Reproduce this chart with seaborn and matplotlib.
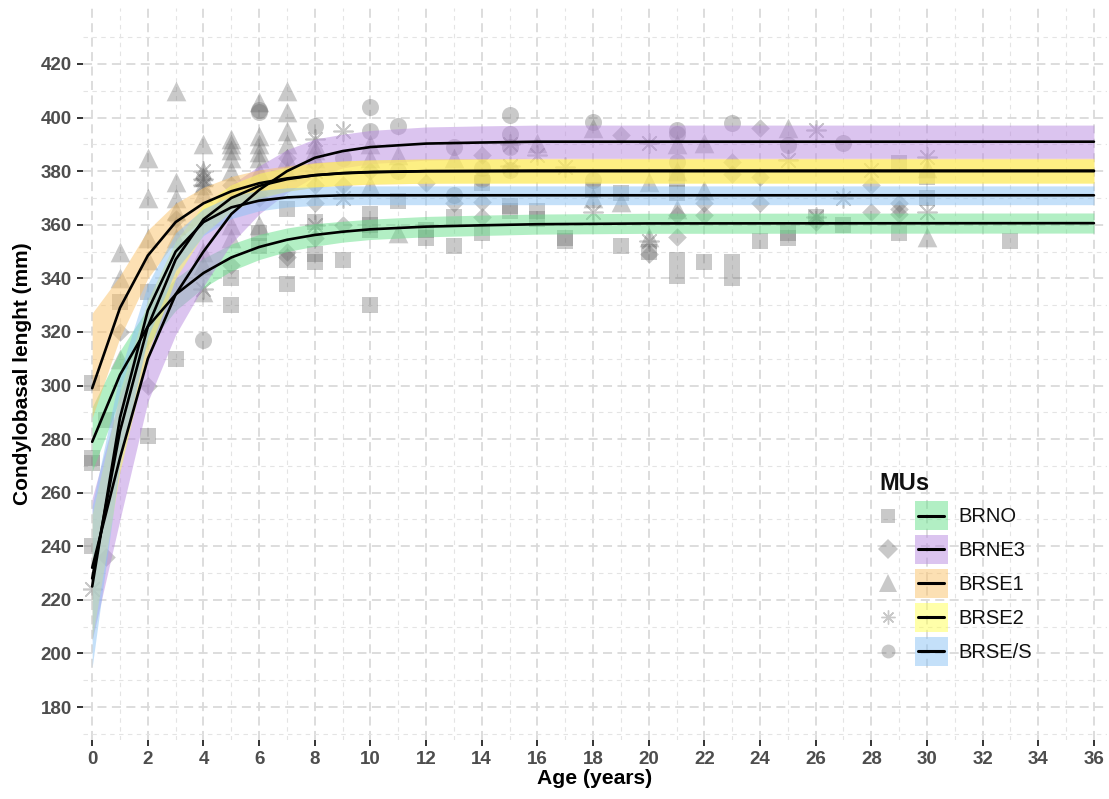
import numpy as np
import pandas as pd
import matplotlib
matplotlib.use("Agg")
import matplotlib.pyplot as plt
import seaborn as sns
from matplotlib.lines import Line2D
from matplotlib.patches import Rectangle
from matplotlib.legend_handler import HandlerBase
from matplotlib.ticker import FixedLocator

# ---------------- data ----------------
groups = ["BRNO", "BRNE3", "BRSE1", "BRSE2", "BRSE/S"]
fill_colors = ["#66e08a", "#b98ae0", "#fbc268", "#ffff55", "#8ac2f4"]

brno_age = [0, 0, 0, 0, 0.5, 1, 2, 2, 3, 5, 5, 6, 6, 7, 7, 7, 8, 8, 8, 9, 10, 10, 10, 10, 11,
            12, 12, 13, 13, 14, 14, 15, 15, 16, 16, 17, 17, 18, 19, 19, 20, 21, 21, 21, 21, 22,
            23, 23, 24, 25, 25, 26, 27, 29, 29, 30, 30, 33]
brno_len = [301, 273, 271, 240, 287, 331, 335, 281, 310, 340, 330, 357, 352, 366, 347, 338, 361,
            349, 346, 347, 364, 360, 358, 330, 369, 355, 358, 363, 352, 375.6, 357, 367, 365, 365,
            362, 355, 354, 373, 372, 352, 350, 377, 372, 347, 341, 346, 346, 340, 354, 357, 355,
            363, 360, 383, 357, 378, 370, 354]

brne3_age = [0.5, 1, 2, 3, 5, 5, 6, 6, 7, 7, 7, 8, 8, 8, 9, 9, 10, 12, 13, 14, 14, 14, 19, 20,
             21, 21, 22, 22, 23, 23, 24, 24, 24, 26, 28, 28, 29, 29, 29]
brne3_len = [236, 320, 300, 362, 345, 375, 370, 372, 350, 348, 385, 375, 368, 355, 375, 360, 380,
             375.6, 368, 386, 368.5, 363, 393.5, 349, 363.6, 355.4, 368, 363.6, 383.4, 379, 396,
             378, 368, 361, 375, 364.7, 368, 366, 364]

brse1_age = [1, 1, 1, 2, 2, 2, 2, 3, 3, 3, 3, 3, 3, 4, 4, 4, 4, 4, 4, 4, 4, 5, 5, 5, 5, 5, 5,
             5, 5, 6, 6, 6, 6, 6, 6, 6, 7, 7, 7, 7, 7, 7, 8, 8, 8, 10, 10, 10, 11, 11, 13, 16,
             18, 18, 19, 20, 20, 21, 21, 21, 22, 22, 25, 30, 30]
brse1_len = [350, 340, 310, 385, 370, 355, 347, 410, 376, 370, 365, 360, 355, 390, 380, 378, 375,
             372, 350, 345, 335, 392, 390, 388, 385, 380, 370, 360, 355, 406, 393, 390, 387, 385,
             380, 360, 410, 402, 395, 390, 385, 380, 390, 388, 385, 390, 385, 375, 386, 357, 385,
             390.5, 396, 370, 368.5, 376, 355.4, 390, 380, 366, 390.5, 373, 396, 381, 355.4]

brse2_age = [0, 4, 4, 4, 4, 8, 8, 8, 9, 9, 15, 15, 16, 17, 18, 20, 20, 25, 26, 26, 27, 28, 30, 30]
brse2_len = [224, 380, 377, 375, 336, 392, 380, 360, 395, 370, 390, 382, 386, 381.5, 364.7, 390.5,
             354, 384, 395.4, 363, 370, 380.4, 385.3, 364.7]

brses_age = [4, 6, 6, 8, 9, 10, 10, 11, 11, 13, 13, 14, 14, 15, 15, 15, 15, 18, 18, 21, 21, 21,
             23, 25, 27]
brses_len = [317, 403, 402, 397, 385, 404, 395, 397, 380, 389, 371, 381, 377, 401, 394, 389, 380.4,
             398.4, 376.7, 395.4, 394, 383.4, 398, 389.8, 390.5]

# fitted growth curves and their confidence ribbons
curve_age = [0, 1, 2, 3, 4, 5, 6, 7, 8, 9, 10, 12, 14, 16, 20, 36]

brno_fit = [279, 304, 322, 334, 342, 347.8, 351.7, 354.4, 356.2, 357.4, 358.3, 359.3, 359.8, 360.2, 360.5, 360.6]
brno_lo = [268, 295, 315, 328, 336.5, 342.8, 347, 350, 352, 353.5, 354.5, 355.5, 356, 356.5, 356.8, 356.9]
brno_hi = [292, 313, 329, 340, 347.5, 352.8, 356.4, 358.8, 360.4, 361.3, 362.1, 363.1, 363.6, 364, 364.3, 364.4]

brne3_fit = [232, 273, 310, 334, 350, 364, 373, 380, 385, 387.5, 389, 390.3, 390.7, 391, 391, 391]
brne3_lo = [205, 250, 294, 319, 337, 353, 364, 372, 378, 381.2, 382.8, 384.1, 384.5, 384.8, 384.8, 384.8]
brne3_hi = [258, 296, 327, 349, 363, 375, 382, 388, 392, 393.8, 395.2, 396.5, 396.9, 397.2, 397.2, 397.2]

brse1_fit = [299, 329, 348.5, 361, 368, 372.5, 375.5, 377.3, 378.5, 379.2, 379.6, 380, 380.1, 380.2, 380.2, 380.2]
brse1_lo = [288, 318, 340, 354, 362, 367, 370.5, 372.5, 374, 374.7, 375.1, 375.5, 375.6, 375.6, 375.6, 375.6]
brse1_hi = [327, 341, 358, 368, 374, 378, 380.5, 382, 383.2, 383.8, 384.2, 384.6, 384.7, 384.8, 384.8, 384.8]

brse2_fit = [228, 283, 322, 347, 362, 370, 374.5, 377, 378.5, 379.3, 379.7, 380, 380, 380, 380, 380]
brse2_lo = [205, 268, 312, 340, 356.5, 365, 369.8, 372.5, 374, 374.8, 375.2, 375.5, 375.5, 375.5, 375.5, 375.5]
brse2_hi = [252, 298, 332, 354, 367.5, 375, 379.2, 381.5, 383, 383.8, 384.2, 384.5, 384.5, 384.5, 384.5, 384.5]

brses_fit = [225, 288, 328, 350, 361, 366.5, 369, 370.2, 370.7, 371, 371, 371, 371, 371, 371, 371]
brses_lo = [195, 271, 318, 343, 356, 362.3, 365.2, 366.6, 367.2, 367.5, 367.5, 367.5, 367.5, 367.5, 367.5, 367.5]
brses_hi = [255, 305, 338, 357, 366, 370.7, 372.8, 373.8, 374.2, 374.5, 374.5, 374.5, 374.5, 374.5, 374.5, 374.5]

x_ticks = list(range(0, 37, 2))
y_ticks = list(range(180, 421, 20))

# ---------------- assemble ----------------
pts = pd.concat([
    pd.DataFrame({"age": a, "len": v, "MU": g})
    for a, v, g in [(brno_age, brno_len, "BRNO"), (brne3_age, brne3_len, "BRNE3"),
                    (brse1_age, brse1_len, "BRSE1"), (brse2_age, brse2_len, "BRSE2"),
                    (brses_age, brses_len, "BRSE/S")]
], ignore_index=True)

curves = pd.concat([
    pd.DataFrame({"age": curve_age, "fit": f, "lo": lo, "hi": hi, "MU": g})
    for f, lo, hi, g in [(brno_fit, brno_lo, brno_hi, "BRNO"), (brne3_fit, brne3_lo, brne3_hi, "BRNE3"),
                         (brse1_fit, brse1_lo, brse1_hi, "BRSE1"), (brse2_fit, brse2_lo, brse2_hi, "BRSE2"),
                         (brses_fit, brses_lo, brses_hi, "BRSE/S")]
], ignore_index=True)

# ---------------- style ----------------
sns.set_theme(style="white")
plt.rcParams["font.family"] = ["Liberation Sans", "DejaVu Sans"]

markers = {"BRNO": "s", "BRNE3": "D", "BRSE1": "^", "BRSE2": (8, 2, 0), "BRSE/S": "o"}
msizes = {"BRNO": 120, "BRNE3": 90, "BRSE1": 200, "BRSE2": 190, "BRSE/S": 150}
pt_color = "#666666"
pt_alpha = 0.35

fig = plt.figure(figsize=(11.09, 7.99), dpi=100)
ax = fig.add_axes([83 / 1109, 59 / 799, 1024 / 1109, 732 / 799])

# points
for g in groups:
    d = pts[pts["MU"] == g]
    lw = 1.2 if g == "BRSE2" else 0
    sns.scatterplot(data=d, x="age", y="len", marker=markers[g], s=msizes[g],
                    color=pt_color, alpha=pt_alpha, linewidth=lw, ax=ax, legend=False, zorder=2)

# ribbons
for g, c in zip(groups, fill_colors):
    d = curves[curves["MU"] == g]
    ax.fill_between(d["age"], d["lo"], d["hi"], color=c, alpha=0.5, linewidth=0, zorder=3)

# lines
for g in groups:
    d = curves[curves["MU"] == g]
    sns.lineplot(data=d, x="age", y="fit", color="black", linewidth=1.9, ax=ax,
                 legend=False, zorder=4, estimator=None, sort=False)

# axes
ax.set_xlim(-0.33, 36.47)
ax.set_ylim(167.7, 440.9)
ax.xaxis.set_major_locator(FixedLocator(x_ticks))
ax.yaxis.set_major_locator(FixedLocator(y_ticks))
ax.xaxis.set_minor_locator(FixedLocator([t for t in range(-1, 38) if t % 2 == 1]))
ax.yaxis.set_minor_locator(FixedLocator([v for v in range(170, 441, 10) if v % 20 == 10]))
ax.grid(which="major", color="#dadada", linewidth=1.3, linestyle=(0, (5, 3)), zorder=0)
ax.grid(which="minor", color="#e4e4e4", linewidth=0.8, linestyle=(0, (4, 4)), zorder=0)
ax.set_axisbelow(True)
for s in ax.spines.values():
    s.set_visible(False)
ax.tick_params(which="major", direction="out", length=4, width=1.4, color="#333333",
               labelsize=13.5, labelcolor="#4d4d4d", pad=4, bottom=True, left=True)
ax.tick_params(which="minor", length=0)
for lab in ax.get_xticklabels() + ax.get_yticklabels():
    lab.set_fontweight("bold")
ax.set_xlabel("Age (years)", fontsize=15.2, fontweight="bold", color="black", labelpad=1)
ax.set_ylabel("Condylobasal lenght (mm)", fontsize=15, fontweight="bold", color="black", labelpad=6)


# legend
class LegendKey:
    def __init__(self, marker, fill):
        self.marker, self.fill = marker, fill


class KeyHandler(HandlerBase):
    def create_artists(self, legend, orig, xd, yd, w, h, fs, trans):
        cy = -yd + h / 2
        mk = Line2D([-xd + w * 0.12], [cy], marker=orig.marker, linestyle="none",
                    markersize=10 if orig.marker != "^" else 13,
                    color=pt_color, alpha=pt_alpha,
                    markeredgewidth=1.0 if orig.marker == (8, 2, 0) else 0)
        bx = -xd + w * 0.52
        r = Rectangle((bx, -yd - h * 0.06), w * 0.48, h * 1.12, facecolor=orig.fill, alpha=0.5,
                      edgecolor="none")
        ln = Line2D([bx + w * 0.05, bx + w * 0.43], [cy, cy], color="black", linewidth=2.2)
        for a in (mk, r, ln):
            a.set_transform(trans)
        return [mk, r, ln]


keys = [LegendKey(markers[g], c) for g, c in zip(groups, fill_colors)]
leg = ax.legend(keys, groups, handler_map={LegendKey: KeyHandler()}, title="MUs",
                loc="upper left", bbox_to_anchor=(0.764, 0.386), frameon=False,
                fontsize=14.5, title_fontproperties={"weight": "bold", "size": 17},
                handlelength=3.4, handleheight=1.6, labelspacing=0.4, handletextpad=0.5,
                borderpad=0.2)
leg._legend_box.align = "left"
for t in leg.get_texts():
    t.set_color("#111111")
leg.get_title().set_color("#111111")

fig.savefig("out.png", dpi=100)
